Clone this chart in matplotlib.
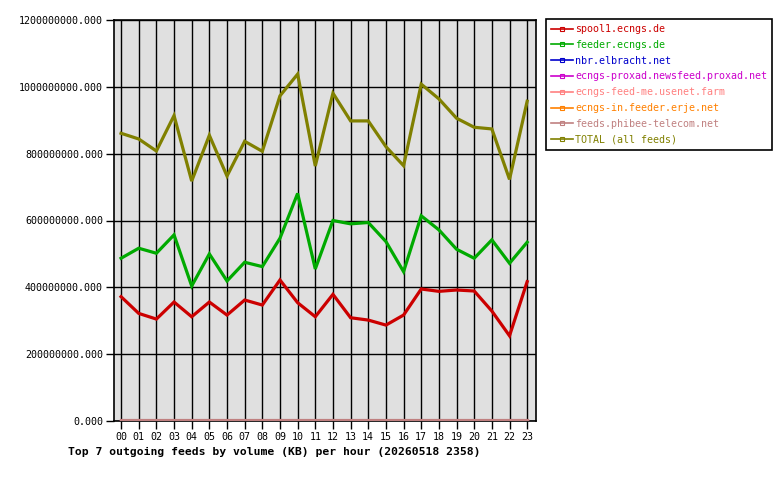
import numpy as np
import matplotlib
matplotlib.use("Agg")
from matplotlib import pyplot as plt

hours = ["%02d" % h for h in range(24)]

# values in millions of KB
spool1 = [372, 322, 305, 356, 312, 356, 317, 362, 347, 422, 354, 312,
          379, 309, 302, 287, 317, 395, 388, 392, 389, 329, 255, 417]
feeder = [487, 517, 502, 557, 404, 500, 419, 475, 462, 547, 681, 455,
          600, 590, 594, 537, 447, 614, 572, 514, 487, 542, 472, 535]
elbracht = [0] * 24
proxad = [0] * 24
feed_me = [0] * 24
erje = [0] * 24
phibee = [3] * 24
total = [861, 844, 808, 914, 718, 855, 733, 837, 807, 973, 1038, 763,
         981, 898, 898, 821, 764, 1008, 964, 906, 879, 874, 723, 957]

names = ["spool1.ecngs.de", "feeder.ecngs.de", "nbr.elbracht.net",
         "ecngs-proxad.newsfeed.proxad.net", "ecngs-feed-me.usenet.farm",
         "ecngs-in.feeder.erje.net", "feeds.phibee-telecom.net",
         "TOTAL (all feeds)"]
series = [spool1, feeder, elbracht, proxad, feed_me, erje, phibee, total]
colors = ["#cc0000", "#00aa00", "#0000cc", "#cc00cc", "#ff8080",
          "#ff8000", "#c08080", "#808000"]

mono = "DejaVu Sans Mono"

fig = plt.figure(figsize=(7.8, 4.8), dpi=100)
ax = fig.add_axes([114 / 780, 1 - 421 / 480, 422 / 780, 401 / 480])
ax.set_facecolor("#e0e0e0")

x = np.arange(24)
handles = []
for name, vals, c in zip(names, series, colors):
    ax.plot(x, np.array(vals) * 1e6, color=c, lw=2.3, solid_joinstyle="miter",
            zorder=3 + (1 if name.startswith("feeds.") else 0))
    h, = ax.plot([], [], color=c, lw=1.2, marker="s", markersize=3,
                 markerfacecolor="none", markeredgewidth=0.8)
    handles.append(h)

ax.set_xlim(-0.4, 23.5)
ax.set_ylim(0, 1.2e9)
ax.set_xticks(x)
ax.set_xticklabels(hours, family=mono, fontsize=7.2)
yt = np.arange(0, 1.2e9 + 1, 2e8)
ax.set_yticks(yt)
ax.set_yticklabels(["%.3f" % v for v in yt], family=mono, fontsize=7.2)
ax.grid(True, color="black", lw=1.0, zorder=1)
ax.set_axisbelow(True)
ax.tick_params(direction="out", length=6, width=1, color="black", pad=2)
for s in ax.spines.values():
    s.set_linewidth(1.2)
    s.set_zorder(2)

leg = fig.legend(handles, names, loc="upper left",
                 bbox_to_anchor=(546 / 780, 1 - 19 / 480), borderaxespad=0,
                 prop={"family": mono, "size": 7.2}, fancybox=False,
                 edgecolor="black", framealpha=1, handlelength=2.2,
                 handletextpad=0.2, labelspacing=0.58, borderpad=0.5)
leg.get_frame().set_linewidth(1.2)
for t, c in zip(leg.get_texts(), colors):
    t.set_color(c)

fig.text(68 / 780, 1 - 452 / 480, "Top 7 outgoing feeds by volume (KB) per hour (20260518 2358)",
         family=mono, fontweight="bold", fontsize=8.2, va="center", ha="left")

fig.savefig("out.png", dpi=100)
